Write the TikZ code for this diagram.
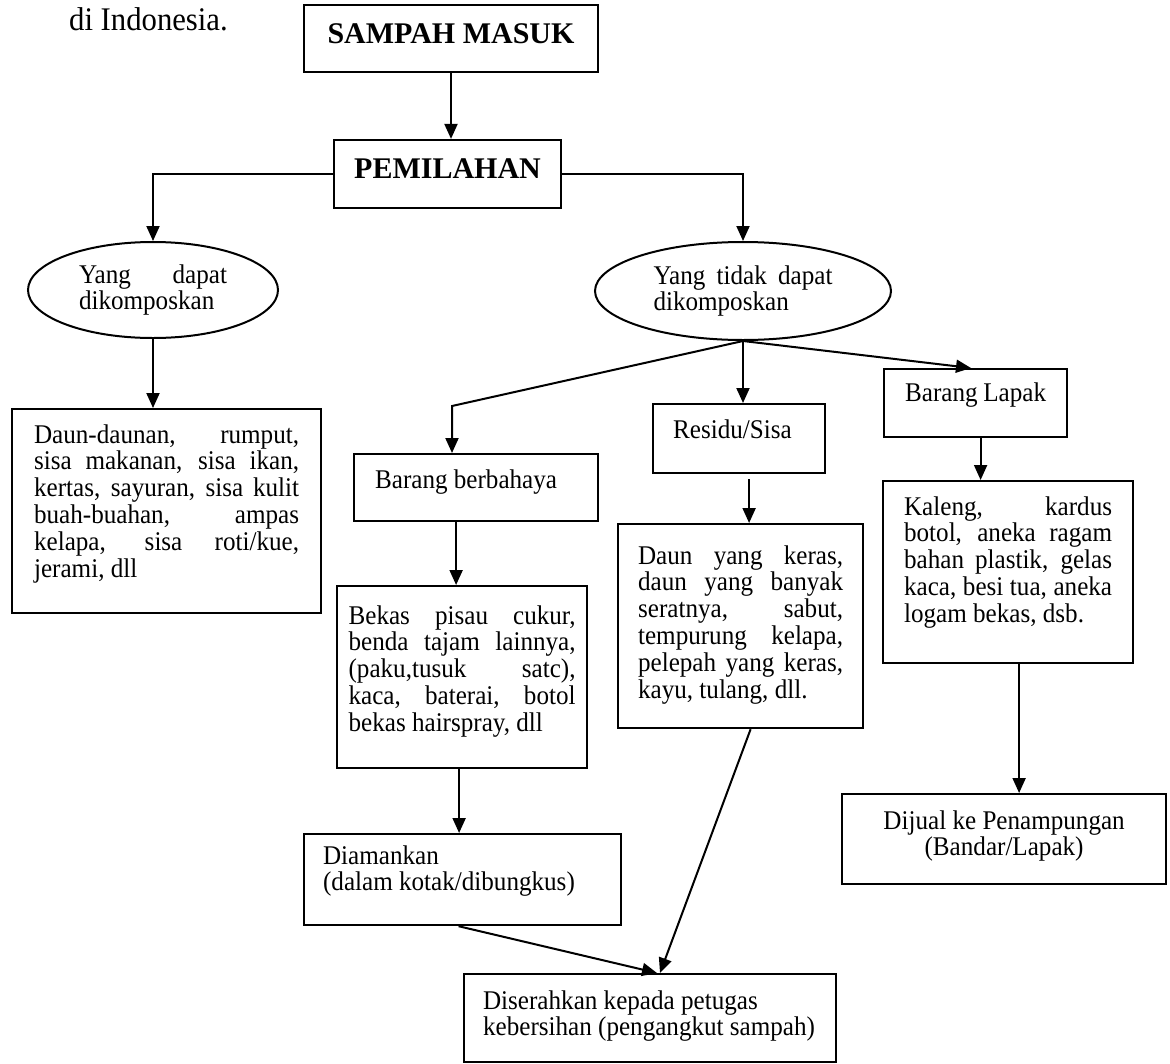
\documentclass[tikz,border=0pt]{standalone}
\usepackage{fontspec}
\setmainfont{Liberation Serif}
\newfontfamily\bodyfam{Liberation Serif}[FakeStretch=0.93]
\usetikzlibrary{arrows.meta,shapes.geometric}
\newcommand{\bodyfont}{\bodyfam\fontsize{27}{26.8}\selectfont}
\newcommand{\headfont}{\fontsize{30}{32}\selectfont\bfseries}
\newcommand{\jl}[1]{\makebox[\linewidth][s]{#1}}
\newcommand{\bxt}[4]{\parbox[t][#1][t]{#2}{\rule{0pt}{#3}#4}}
\begin{document}
\begin{tikzpicture}[x=1pt,y=1pt,
 bx/.style={draw, line width=2.2pt, inner ysep=0pt, anchor=north west, font=\bodyfont},
 head/.style={draw, line width=2.2pt, font=\headfont, text depth=10pt, inner sep=0pt},
 oval/.style={ellipse, draw, line width=2pt, inner sep=0pt, font=\bodyfont},
 arr/.style={line width=2pt, -{Triangle[length=15pt,width=13pt]}},
 ]
\useasboundingbox (0,0) rectangle (1170,-1063);
\node[anchor=base west, font=\bodyfam\fontsize{33}{34}\selectfont, inner sep=0pt] (cap) at (69,-30) {di Indonesia.};
\node[head, minimum width=294pt, minimum height=67pt] (b1) at (451,-38.5) {SAMPAH MASUK};
\node[head, minimum width=227pt, minimum height=68pt] (b2) at (447.5,-174) {PEMILAHAN};
\node[oval, minimum width=250pt, minimum height=96pt] (e1) at (153,-290) {\parbox{148pt}{\jl{Yang dapat}\\dikomposkan}};
\node[oval, minimum width=296pt, minimum height=98pt] (e2) at (743,-291) {\parbox{179pt}{\jl{Yang tidak dapat}\\dikomposkan}};
\node[bx, inner xsep=22pt] (b3) at (11,-408) {\bxt{204pt}{265pt}{34pt}{\jl{Daun-daunan, rumput,}\\\jl{sisa makanan, sisa ikan,}\\\jl{kertas, sayuran, sisa kulit}\\\jl{buah-buahan, ampas}\\\jl{kelapa, sisa roti/kue,}\\jerami, dll}};
\node[bx, inner xsep=21pt] (b4) at (353,-453) {\bxt{67pt}{202pt}{34pt}{Barang berbahaya}};
\node[bx, inner xsep=20pt] (b5) at (652,-403) {\bxt{69pt}{132pt}{34pt}{Residu/Sisa}};
\node[bx, inner xsep=21pt] (b6) at (883,-368) {\bxt{68pt}{141pt}{32pt}{Barang Lapak}};
\node[bx, inner xsep=11.5pt] (b7) at (336,-585) {\bxt{182pt}{227pt}{38pt}{\jl{Bekas pisau cukur,}\\\jl{benda tajam lainnya,}\\\jl{(paku,tusuk satc),}\\\jl{kaca, baterai, botol}\\bekas hairspray, dll}};
\node[bx, inner xsep=20pt] (b8) at (617,-523) {\bxt{204pt}{205pt}{40pt}{\jl{Daun yang keras,}\\\jl{daun yang banyak}\\\jl{seratnya, sabut,}\\\jl{tempurung kelapa,}\\\jl{pelepah yang keras,}\\kayu, tulang, dll.}};
\node[bx, inner xsep=21pt] (b9) at (882,-480) {\bxt{182pt}{208pt}{34pt}{\jl{Kaleng, kardus}\\\jl{botol, aneka ragam}\\\jl{bahan plastik, gelas}\\\jl{kaca, besi tua, aneka}\\logam bekas, dsb.}};
\node[bx, inner xsep=20pt] (b10) at (841,-793) {\bxt{90pt}{284pt}{35pt}{\centering Dijual ke Penampungan\\(Bandar/Lapak)}};
\node[bx, inner xsep=19pt] (b11) at (303,-833) {\bxt{91pt}{279pt}{30pt}{Diamankan\\(dalam kotak/dibungkus)}};
\node[bx, inner xsep=19pt] (b12) at (463,-973) {\bxt{88pt}{334pt}{35pt}{Diserahkan kepada petugas\\kebersihan (pengangkut sampah)}};
\coordinate (c1) at (452,-406);
\draw[arr] (b1.south) -- (b1.south |- b2.north);
\draw[arr] (b2.west) -| (e1.north);
\draw[arr] (b2.east) -| (e2.north);
\draw[arr] (e1.south) -- (e1.south |- b3.north);
\draw[arr] (e2.south) -- (c1) -- (c1 |- b4.north);
\draw[arr] (e2.south) -- (e2.south |- b5.north);
\draw[arr] (e2.south) -- ([xshift=88pt]b6.north west);
\draw[arr] ([xshift=-20pt]b4.south) -- ([xshift=-20pt]b4.south |- b7.north);
\draw[arr] ([xshift=10pt,yshift=-5pt]b5.south) -- ([xshift=10pt]b5.south |- b8.north);
\draw[arr] ([xshift=5pt]b6.south) -- ([xshift=5pt]b6.south |- b9.north);
\draw[arr] ([xshift=11pt]b9.south) -- ([xshift=11pt]b9.south |- b10.north);
\draw[arr] ([xshift=-3pt]b7.south) -- ([xshift=-3pt]b7.south |- b11.north);
\draw[arr] ([xshift=-4pt]b11.south) -- ([xshift=194pt]b12.north west);
\draw[arr] ([xshift=10pt]b8.south) -- ([xshift=197pt]b12.north west);
\end{tikzpicture}
\end{document}
